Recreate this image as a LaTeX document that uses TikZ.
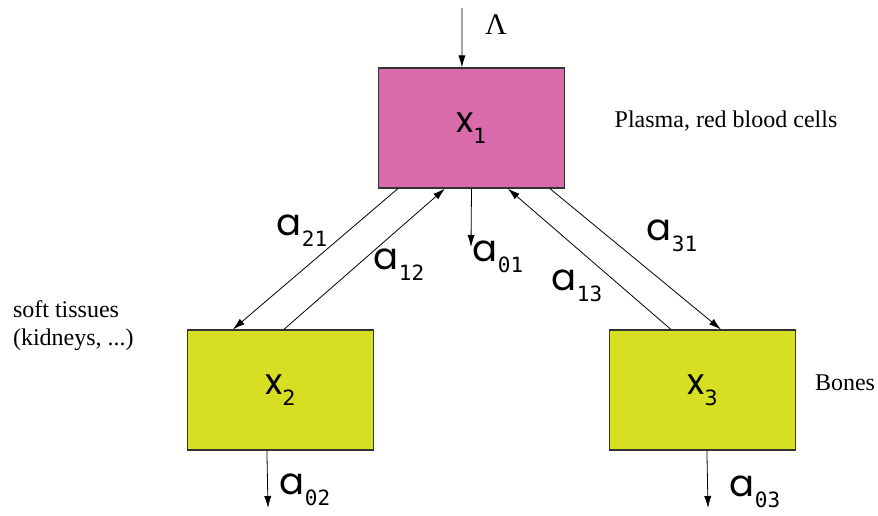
\documentclass[tikz,border=0pt]{standalone}
\usepackage{fontspec}
\setmainfont{Liberation Serif}
\newfontfamily\labfont{Poppins}
\newfontfamily\subfont{DejaVu Sans Mono}
\newfontfamily\idxfont{DejaVu Sans}
\usepackage{tikz}
\usetikzlibrary{arrows.meta,calc}
\definecolor{plasmapink}{HTML}{DA6BAA}
\definecolor{tissuelime}{HTML}{D7DF23}
\colorlet{boxedge}{black!80}
% rate constant a_{ij} in the sans label font
\newcommand{\rate}[1]{{\labfont\fontsize{18.5}{18.5}\selectfont a\raisebox{-5.5pt}{\subfont\fontsize{10.5}{10.5}\selectfont #1}}}
\newcommand{\comp}[1]{{\labfont\fontsize{18}{18}\selectfont x\raisebox{-5.5pt}{\idxfont\fontsize{10.5}{10.5}\selectfont #1}}}
\tikzset{
  compbox/.style={draw=boxedge,semithick,minimum width=93pt,minimum height=60pt,inner sep=0pt},
  flow/.style={->,thin},
  desc/.style={font=\fontsize{12}{14}\selectfont}
}

\begin{document}
\begin{tikzpicture}[x=0.5pt,y=-0.5pt,>={Latex[length=6pt,width=3.6pt]}]
\useasboundingbox (0,0) rectangle (878,515);
\node[compbox,fill=plasmapink] (x1) at (471.5,128) {\comp{1}};
\node[compbox,fill=tissuelime] (x2) at (280.5,390) {\comp{2}};
\node[compbox,fill=tissuelime] (x3) at (702.5,390) {\comp{3}};
% inflow and outflows
\coordinate (lamin) at (462,8);
\draw[flow] (lamin) -- ([xshift=42pt]x1.north west);
\node[font=\fontsize{15}{15}\selectfont] (lam) at (496,25) {Λ};
\coordinate (out1) at (471,247);  \draw[flow] (x1.south) -- (out1);
\coordinate (out2) at (268,508);  \draw[flow] ([xshift=40pt]x2.south west) -- (out2);
\coordinate (out3) at (708,508);  \draw[flow] ([xshift=49pt]x3.south west) -- (out3);
% exchange between compartments
\draw[flow] ([xshift=10pt]x1.south west) -- ([xshift=23pt]x2.north west);
\draw[flow] ([xshift=48.5pt]x2.north west) -- ([xshift=33.5pt]x1.south west);
\draw[flow] ([xshift=31pt]x3.north west) -- ([xshift=65pt]x1.south west);
\draw[flow] ([xshift=86pt]x1.south west) -- ([xshift=56pt]x3.north west);
\node (a21) at (302,231) {\rate{21}};
\node (a12) at (399,265) {\rate{12}};
\node (a01) at (498,257) {\rate{01}};
\node (a13) at (577,286) {\rate{13}};
\node (a31) at (672,236) {\rate{31}};
\node (a02) at (305,490) {\rate{02}};
\node (a03) at (755,492) {\rate{03}};
% what each compartment stands for
\node[desc] (plasma) at (726,121) {Plasma, red blood cells};
\node[desc,anchor=west,align=left] (soft) at (6,326) {soft tissues\\(kidneys, ...)};
\node[desc] (bones) at (845,383) {Bones};
\end{tikzpicture}
\end{document}
